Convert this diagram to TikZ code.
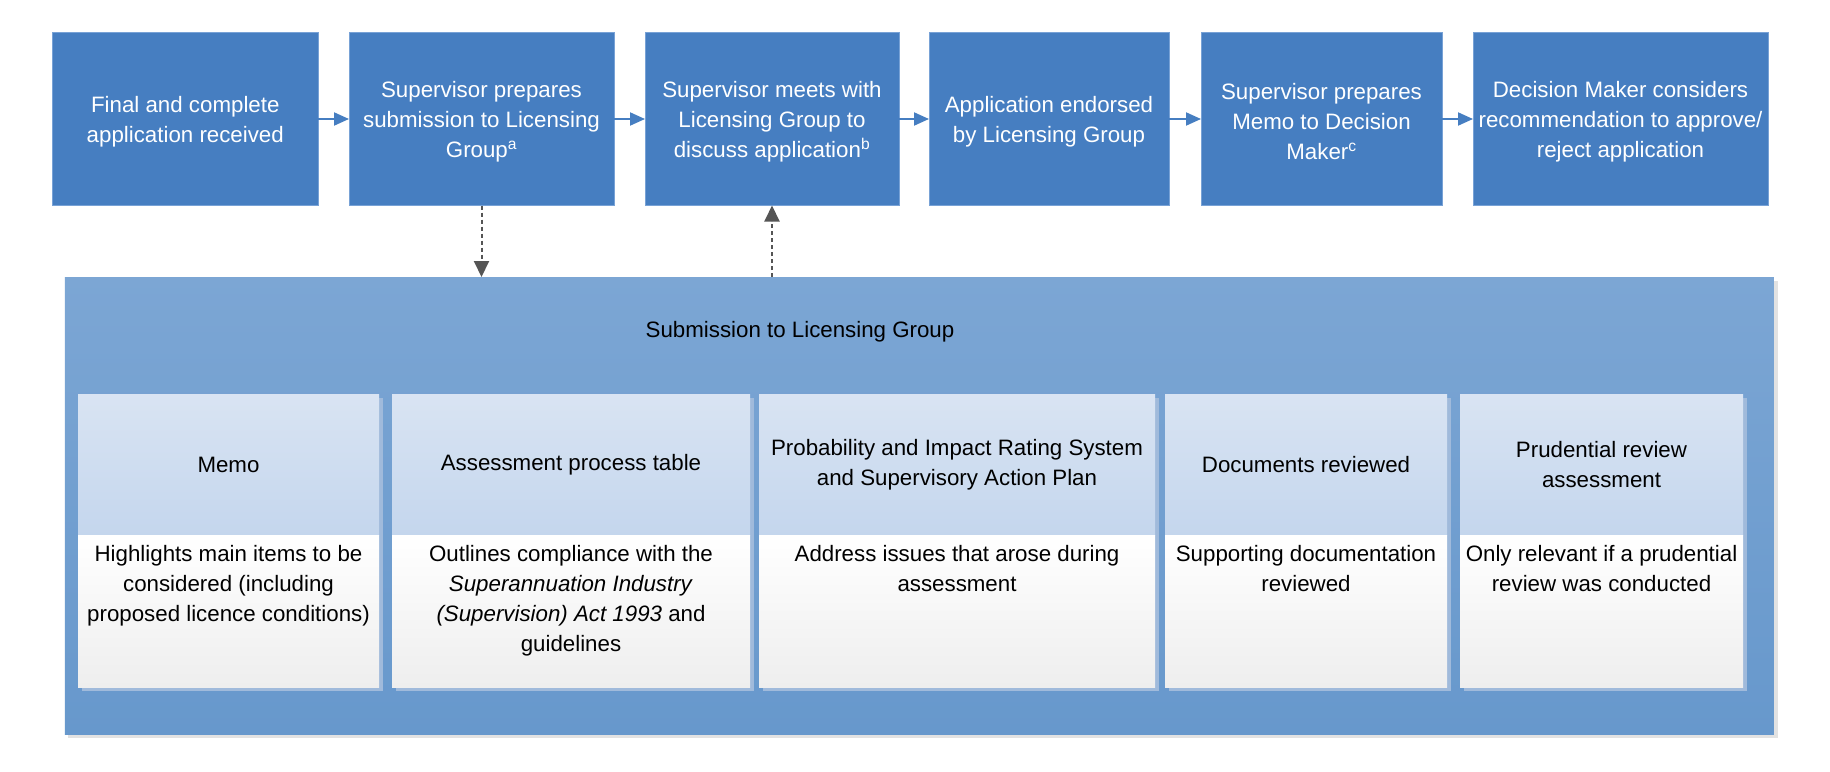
\documentclass[tikz,border=0pt]{standalone}
\usepackage{fontspec}
\setmainfont{Liberation Sans}
\usetikzlibrary{arrows.meta,calc}

\definecolor{topblue}{RGB}{70,126,193}
\definecolor{topedge}{RGB}{120,162,214}
\definecolor{contTop}{RGB}{124,166,212}
\definecolor{contBot}{RGB}{103,152,204}
\definecolor{hdrTop}{RGB}{217,228,243}
\definecolor{hdrBot}{RGB}{196,214,237}
\definecolor{bodyBot}{RGB}{238,238,238}
\definecolor{subShadow}{RGB}{160,186,219}
\definecolor{contShadow}{RGB}{226,226,226}
\definecolor{dashgray}{RGB}{85,85,85}

\begin{document}
\begin{tikzpicture}[x=1pt,y=-1pt,
  every node/.style={inner sep=0pt,outer sep=0pt,font=\fontsize{22.3}{30}\selectfont},
  topbox/.style={draw=topedge,line width=0.8pt,fill=topblue,minimum height=173pt},
  toptext/.style={text=white,align=center},
  container/.style={top color=contTop,bottom color=contBot,minimum width=1709pt,minimum height=457pt},
  hdrbox/.style={top color=hdrTop,bottom color=hdrBot,align=center,minimum height=141pt},
  bodybox/.style={top color=white,bottom color=bodyBot,minimum height=152pt},
  bodytext/.style={anchor=north,align=center},
  flow/.style={draw=topblue,line width=2pt,-{Triangle[length=15pt,width=13pt]}},
  dasharrow/.style={draw=dashgray,line width=2pt,dash pattern=on 4pt off 3pt,
    -{Triangle[length=16pt,width=15pt,fill=dashgray]}}
]
\useasboundingbox (0,0) rectangle (1830,771);
\fill[white] (0,0) rectangle (1830,771);

% top row
\node[topbox,minimum width=265.5pt] (b1) at (185.3,119) {};
\node[topbox,minimum width=265pt] (b2) at (481.5,119) {};
\node[topbox,minimum width=254pt] (b3) at (772,119) {};
\node[topbox,minimum width=240pt] (b4) at (1049,119) {};
\node[topbox,minimum width=241pt] (b5) at (1321.5,119) {};
\node[topbox,minimum width=295pt] (b6) at (1620.5,119) {};
\node[toptext] (t1) at ($(b1.center)+(0,2.5)$) {Final and complete\\application received};
\node[toptext] (t2) at ($(b2.center)+(0,2.5)$) {Supervisor prepares\\submission to Licensing\\Group\textsuperscript{a}};
\node[toptext] (t3) at ($(b3.center)+(0,2.5)$) {Supervisor meets with\\Licensing Group to\\discuss application\textsuperscript{b}};
\node[toptext] (t4) at ($(b4.center)+(0,2.5)$) {Application endorsed\\by Licensing Group};
\node[toptext] (t5) at ($(b5.center)+(0,2.5)$) {Supervisor prepares\\Memo to Decision\\Maker\textsuperscript{c}};
\node[toptext] (t6) at ($(b6.center)+(0,2.5)$) {Decision Maker considers\\recommendation to approve/\\reject application};

\draw[flow] (b1) -- (b2);
\draw[flow] (b2) -- (b3);
\draw[flow] (b3) -- (b4);
\draw[flow] (b4) -- (b5);
\draw[flow] (b5) -- (b6);

% container
\fill[contShadow] (68,281) rectangle (1777.5,737.5);
\node[container] (cont) at (919.25,505.5) {};
\node (title) at (800,331.5) {Submission to Licensing Group};

\draw[dasharrow] (b2.south) -- (b2.south |- cont.north);
\draw[dasharrow] (b3.south |- cont.north) -- (b3.south);

% sub-box shadows
\fill[subShadow] (82,398) rectangle (383,691);
\fill[subShadow] (396,398) rectangle (754,691);
\fill[subShadow] (763,398) rectangle (1159,691);
\fill[subShadow] (1169,398) rectangle (1451,691);
\fill[subShadow] (1464,398) rectangle (1747,691);

% sub-boxes
\node[hdrbox,minimum width=301pt] (hA) at (228.5,464.5) {Memo};
\node[bodybox,minimum width=301pt] (bA) at (228.5,611) {};
\node[bodytext] (tA) at ($(bA.north)+(0,10.5)$) {Highlights main items to be\\considered (including\\proposed licence conditions)};

\node[hdrbox,minimum width=358pt] (hB) at (571,464.5) {Assessment process table};
\node[bodybox,minimum width=358pt] (bB) at (571,611) {};
\node[bodytext] (tB) at ($(bB.north)+(0,10.5)$) {Outlines compliance with the\\\textit{Superannuation Industry}\\\textit{(Supervision) Act 1993} and\\guidelines};

\node[hdrbox,minimum width=396pt] (hC) at (957,464.5) {Probability and Impact Rating System\\and Supervisory Action Plan};
\node[bodybox,minimum width=396pt] (bC) at (957,611) {};
\node[bodytext] (tC) at ($(bC.north)+(0,10.5)$) {Address issues that arose during\\assessment};

\node[hdrbox,minimum width=282pt] (hD) at (1306,464.5) {Documents reviewed};
\node[bodybox,minimum width=282pt] (bD) at (1306,611) {};
\node[bodytext] (tD) at ($(bD.north)+(0,10.5)$) {Supporting documentation\\reviewed};

\node[hdrbox,minimum width=283pt] (hE) at (1601.5,464.5) {Prudential review\\assessment};
\node[bodybox,minimum width=283pt] (bE) at (1601.5,611) {};
\node[bodytext] (tE) at ($(bE.north)+(0,10.5)$) {Only relevant if a prudential\\review was conducted};
\end{tikzpicture}
\end{document}
